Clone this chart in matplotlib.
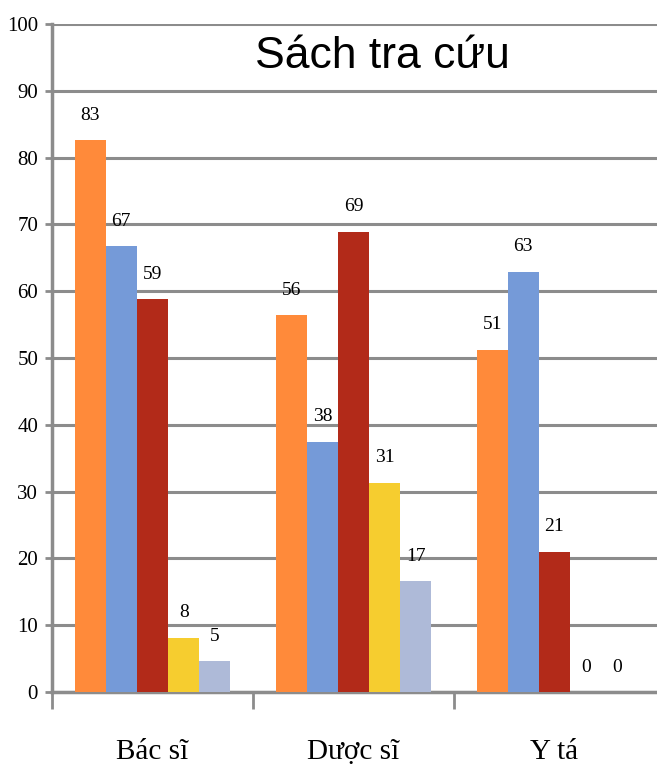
import matplotlib
matplotlib.use("Agg")
import matplotlib.pyplot as plt
import numpy as np

# data
categories = ["Bác sĩ", "Dược sĩ", "Y tá"]
series_colors = ["#FF8A3A", "#759AD8", "#B22A19", "#F6CD2F", "#AEBAD8"]
values = [
    [82.6, 56.4, 51.2],
    [66.7, 37.5, 62.9],
    [58.8, 68.9, 21.0],
    [8.1, 31.3, 0],
    [4.6, 16.6, 0],
]
title = "Sách tra cứu"

fig = plt.figure(figsize=(6.57, 7.73), dpi=100)
ax = fig.add_axes([52 / 657, 1 - 692 / 773, 1 - 52 / 657, (692 - 24) / 773])

serif = "Liberation Serif"
grid_col = "#8C8C8C"

n = len(values)
width = 0.155
x = np.arange(len(categories))
for i, (vals, col) in enumerate(zip(values, series_colors)):
    pos = x + (i - (n - 1) / 2) * width
    ax.bar(pos, vals, width=width, color=col, zorder=3)
    for px, v in zip(pos, vals):
        ax.annotate(f"{round(v)}", (px, v), xytext=(0, 18), textcoords="offset points",
                    ha="center", va="center", fontsize=14, family=serif, zorder=4)

ax.set_xlim(-0.5, 2.51)
ax.set_ylim(0, 100)
ax.set_yticks(np.arange(0, 101, 10))
ax.yaxis.grid(True, color=grid_col, linewidth=2.2, zorder=0)
ax.tick_params(axis="y", length=5, width=2, color=grid_col, labelsize=15, pad=5)
for lab in ax.get_yticklabels():
    lab.set_family(serif)

# group boundary ticks and category labels
ax.set_xticks([-0.5, 0.5, 1.5])
ax.set_xticklabels([])
ax.tick_params(axis="x", which="major", length=12, width=2, color=grid_col)
ax.set_xticks(x, minor=True)
ax.set_xticklabels(categories, minor=True, fontsize=21, family=serif)
ax.tick_params(axis="x", which="minor", length=0, pad=34)

for s in ["top", "right"]:
    ax.spines[s].set_visible(False)
for s in ["left", "bottom"]:
    ax.spines[s].set_color(grid_col)
    ax.spines[s].set_linewidth(2.5)

ax.text(0.547, 0.952, title, transform=ax.transAxes, ha="center", va="center",
        fontsize=32, family="Liberation Sans", zorder=5)

fig.savefig("out.png", dpi=100)
